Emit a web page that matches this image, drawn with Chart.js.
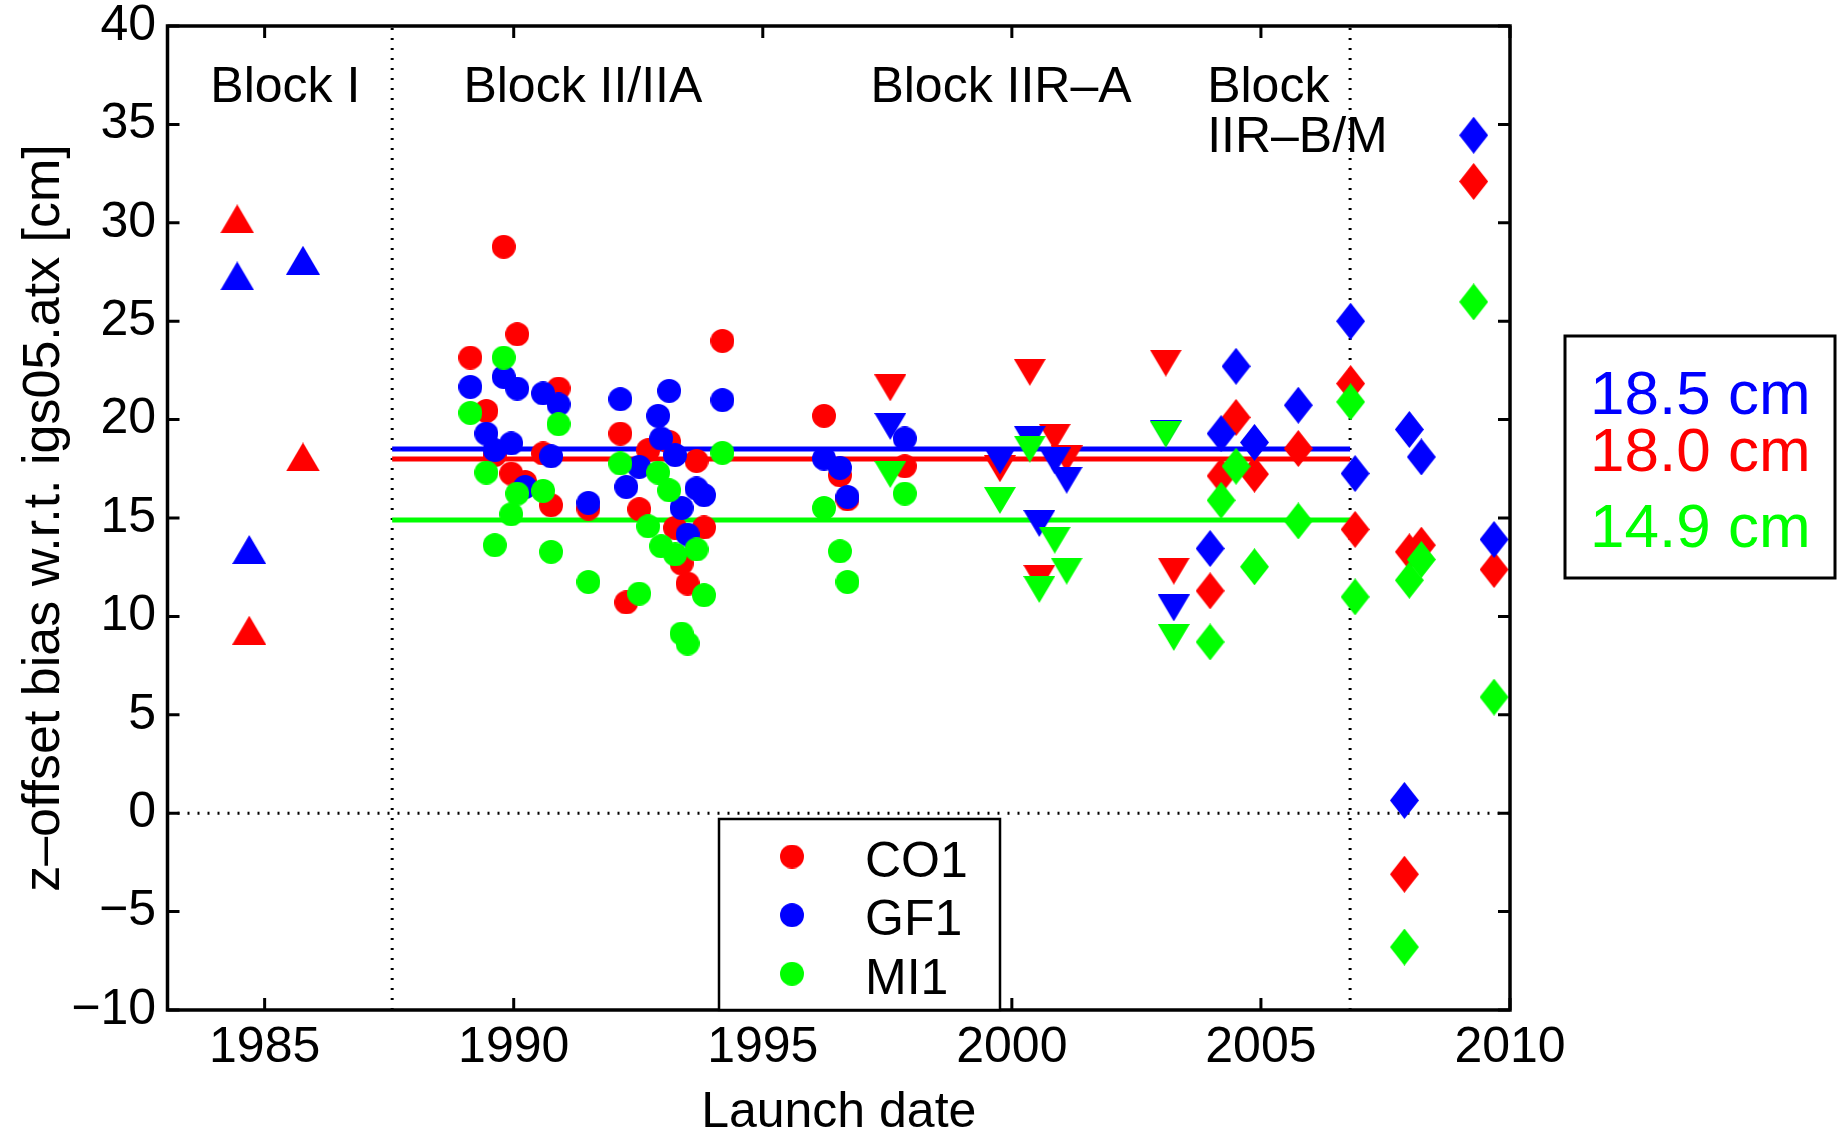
<!DOCTYPE html>
<html>
<head>
<meta charset="utf-8">
<title>z-offset bias w.r.t. igs05.atx</title>
<script src="https://cdn.jsdelivr.net/npm/chart.js@4"></script>
<style>
  html, body { margin: 0; padding: 0; background: #fff; }
  #wrap { width: 1837px; height: 1129px; }
</style>
</head>
<body>
<div id="wrap"><canvas id="chart" width="1837" height="1129"></canvas></div>
<script>
// one entry per satellite: launch date (decimal year), block, and bias per solution [cm]
var launchDates = [
  1984.45, 1984.69, 1985.77,
  1989.13, 1989.45, 1989.62, 1989.80, 1989.95, 1990.07, 1990.23, 1990.59, 1990.75, 1990.90,
  1991.50, 1992.14, 1992.26, 1992.52, 1992.70, 1992.90, 1992.96, 1993.12, 1993.24, 1993.37,
  1993.49, 1993.67, 1993.82, 1994.19, 1996.23, 1996.55, 1996.70, 1997.85,
  1997.56, 1999.76, 2000.36, 2000.55, 2000.86, 2001.10, 2003.09, 2003.25,
  2003.98, 2004.20, 2004.50, 2004.87, 2005.75, 2006.80, 2006.89, 2007.88, 2007.98, 2008.22,
  2009.27, 2009.68
];
var blocks = [
  'I', 'I', 'I',
  'II', 'II', 'II', 'II', 'II', 'II', 'II', 'II', 'II', 'II',
  'II', 'II', 'II', 'II', 'II', 'II', 'II', 'II', 'II', 'II',
  'II', 'II', 'II', 'II', 'II', 'II', 'II', 'II',
  'IIR-A', 'IIR-A', 'IIR-A', 'IIR-A', 'IIR-A', 'IIR-A', 'IIR-A', 'IIR-A',
  'IIR-B/M', 'IIR-B/M', 'IIR-B/M', 'IIR-B/M', 'IIR-B/M', 'IIR-B/M', 'IIR-B/M', 'IIR-B/M', 'IIR-B/M', 'IIR-B/M',
  'IIR-B/M', 'IIR-B/M'
];
var co1 = [
  30.2, 9.3, 18.1,
  23.15, 20.44, 18.2, 28.78, 17.26, 24.34, 16.83, 18.28, 15.65, 21.58,
  15.48, 19.29, 10.71, 15.45, 18.45, null, null, 18.87, 14.5, 12.69,
  11.67, 17.9, 14.52, 24.0, 20.19, 17.17, 15.95, 17.63,
  21.61, 17.5, 22.4, 11.93, 19.1, 18.0, 22.87, 12.3,
  11.3, 17.14, 20.11, 17.23, 18.53, 21.83, 14.42, -3.1, 13.28, 13.62,
  32.1, 12.38
];
var gf1 = [
  27.3, 13.4, 28.1,
  21.66, 19.29, 18.45, 22.17, 18.79, 21.58, 16.58, 21.33, 18.14, 20.77,
  15.77, 21.04, 16.58, 17.6, null, 20.19, 19.04, 21.46, 18.2, 15.51,
  14.16, 16.5, 16.16, 20.99, 18.02, 17.55, 16.07, 19.04,
  19.65, 17.9, 19.0, 14.72, 17.9, 16.92, 19.3, 10.43,
  13.45, 19.29, 22.71, 18.84, 20.73, 25.0, 17.26, 0.65, 19.5, 18.1,
  34.45, 13.91
];
var mi1 = [
  null, null, null,
  20.34, 17.31, 13.62, 23.15, 15.19, 16.24, null, 16.38, 13.28, 19.77,
  11.75, 17.77, null, 11.16, 14.58, 17.31, 13.57, 16.41, 13.15, 9.13,
  8.62, 13.4, 11.08, 18.31, 15.51, 13.31, 11.75, 16.24,
  17.21, 15.89, 18.5, 11.37, 13.87, 12.3, 19.26, 8.93,
  8.7, 15.9, 17.63, 12.52, 14.85, 20.9, 10.99, -6.8, 11.84, 12.89,
  25.98, 5.9
];

var seriesNames = ['CO1', 'GF1', 'MI1'];
var seriesColors = ['#ff0000', '#0000ff', '#00ff00'];
var meanBias = [18.0, 18.5, 14.9];          // CO1, GF1, MI1 over blocks II/IIA and IIR
var meanSpan = [1987.56, 2006.79];
var blockBounds = [1987.56, 2006.79];
var blockNames = ['Block I', 'Block II/IIA', 'Block IIR\u2013A', 'Block', 'IIR\u2013B/M'];
var xTicks = [1985, 1990, 1995, 2000, 2005, 2010];
var yTicks = [-10, -5, 0, 5, 10, 15, 20, 25, 30, 35, 40];
var xRange = [1983.05, 2010];
var yRange = [-10, 40];

var FONT = "'Liberation Sans', Arial, Helvetica, sans-serif";
var shapeOf = { 'I': 'up', 'II': 'circle', 'IIR-A': 'down', 'IIR-B/M': 'diamond' };

function markerCanvas(shape, color) {
  var sz = { circle: [24, 24], up: [34, 29], down: [32, 27], diamond: [29, 37] }[shape];
  var w = sz[0], h = sz[1];
  var c = document.createElement('canvas');
  c.width = w; c.height = h;
  var g = c.getContext('2d');
  g.fillStyle = color;
  g.beginPath();
  if (shape === 'circle') g.arc(w / 2, h / 2, w / 2, 0, Math.PI * 2);
  else if (shape === 'up') { g.moveTo(w / 2, 0); g.lineTo(w, h); g.lineTo(0, h); }
  else if (shape === 'down') { g.moveTo(0, 0); g.lineTo(w, 0); g.lineTo(w / 2, h); }
  else { g.moveTo(w / 2, 0); g.lineTo(w, h / 2); g.lineTo(w / 2, h); g.lineTo(0, h / 2); }
  g.closePath();
  g.fill();
  return c;
}

var markers = seriesColors.map(function(col) {
  var m = {};
  Object.keys(shapeOf).forEach(function(b) { m[b] = markerCanvas(shapeOf[b], col); });
  return m;
});

function seriesPoints(vals) {
  var pts = [];
  vals.forEach(function(v, i) {
    if (v != null) pts.push({ x: launchDates[i], y: v, b: blocks[i] });
  });
  return pts;
}

var datasets = [];
// dotted reference lines
blockBounds.forEach(function(b) {
  datasets.push({ data: [{ x: b, y: yRange[0] }, { x: b, y: yRange[1] }], showLine: true, pointRadius: 0,
    borderColor: '#000', borderWidth: 3, borderDash: [2, 8], order: 10 });
});
datasets.push({ data: [{ x: xRange[0], y: 0 }, { x: xRange[1], y: 0 }], showLine: true, pointRadius: 0,
  borderColor: '#000', borderWidth: 3, borderDash: [2, 8], order: 10 });
// mean lines
meanBias.forEach(function(m, k) {
  datasets.push({ data: [{ x: meanSpan[0], y: m }, { x: meanSpan[1], y: m }], showLine: true, pointRadius: 0,
    borderColor: seriesColors[k], borderWidth: 5, order: 5 + k });
});
// satellites
[co1, gf1, mi1].forEach(function(vals, k) {
  datasets.push({
    label: seriesNames[k],
    data: seriesPoints(vals),
    showLine: false,
    pointStyle: function(c) { return markers[k][c.raw.b]; },
    order: 2 - k
  });
});

var frame = {
  id: 'frame',
  afterDraw: function(chart) {
    var ctx = chart.ctx, a = chart.chartArea, xs = chart.scales.x, ys = chart.scales.y;
    var tl = 12;
    ctx.save();
    ctx.strokeStyle = '#000';
    ctx.lineWidth = 3;
    ctx.beginPath();
    xTicks.forEach(function(v) {
      var px = xs.getPixelForValue(v);
      ctx.moveTo(px, a.bottom); ctx.lineTo(px, a.bottom - tl);
      ctx.moveTo(px, a.top); ctx.lineTo(px, a.top + tl);
    });
    yTicks.forEach(function(v) {
      var py = ys.getPixelForValue(v);
      ctx.moveTo(a.left, py); ctx.lineTo(a.left + tl, py);
      ctx.moveTo(a.right, py); ctx.lineTo(a.right - tl, py);
    });
    ctx.stroke();
    ctx.lineWidth = 3.5;
    ctx.strokeRect(a.left, a.top, a.right - a.left, a.bottom - a.top);

    // block labels
    ctx.fillStyle = '#000';
    ctx.font = '50px ' + FONT;
    ctx.textAlign = 'left';
    ctx.textBaseline = 'alphabetic';
    var labelX = [1983.91, 1988.99, 1997.16, 2003.92, 2003.92];
    var labelY = [36.14, 36.14, 36.14, 36.14, 33.6];
    blockNames.forEach(function(t, i) {
      ctx.fillText(t, xs.getPixelForValue(labelX[i]), ys.getPixelForValue(labelY[i]));
    });

    // legend inside the axes
    var lx = 719, ly = 819, lw = 281, lh = a.bottom - 819;
    ctx.fillStyle = '#fff';
    ctx.fillRect(lx, ly, lw, lh);
    ctx.lineWidth = 2.5;
    ctx.strokeRect(lx, ly, lw, lh);
    seriesNames.forEach(function(n, k) {
      var img = markers[k]['II'];
      var cy = 856.5 + k * 58.6;
      ctx.drawImage(img, 792 - img.width / 2, cy - img.height / 2);
      ctx.fillStyle = '#000';
      ctx.fillText(n, 865, 877 + k * 58.4);
    });

    // mean values box
    ctx.lineWidth = 3;
    ctx.strokeRect(1565, 336, 270, 242);
    ctx.font = '62px ' + FONT;
    var order = [1, 0, 2];
    var base = [414, 471, 547];
    order.forEach(function(k, i) {
      ctx.fillStyle = seriesColors[k];
      ctx.fillText(meanBias[k].toFixed(1) + ' cm', 1590, base[i]);
    });
    ctx.restore();
  }
};

new Chart(document.getElementById('chart'), {
  type: 'scatter',
  data: { datasets: datasets },
  options: {
    responsive: false,
    animation: false,
    events: [],
    layout: { padding: { left: 0, top: 26, right: 327, bottom: 0 } },
    plugins: { legend: { display: false }, tooltip: { enabled: false } },
    scales: {
      x: {
        type: 'linear', min: xRange[0], max: xRange[1],
        grid: { display: false, drawTicks: false },
        border: { display: false },
        afterBuildTicks: function(s) { s.ticks = xTicks.map(function(v) { return { value: v }; }); },
        afterFit: function(s) { s.height = 119; s.paddingLeft = 0; s.paddingRight = 0; },
        ticks: { color: '#000', padding: 8, maxRotation: 0, font: { family: FONT, size: 50 },
          callback: function(v) { return String(v); } },
        title: { display: true, text: 'Launch date', color: '#000', padding: 0,
          font: { family: FONT, size: 50, lineHeight: 0.64 } }
      },
      y: {
        type: 'linear', min: yRange[0], max: yRange[1],
        grid: { display: false, drawTicks: false },
        border: { display: false },
        afterBuildTicks: function(s) { s.ticks = yTicks.map(function(v) { return { value: v }; }); },
        afterFit: function(s) { s.width = 167.5; s.paddingTop = 0; s.paddingBottom = 0; },
        ticks: { color: '#000', padding: 11.5, font: { family: FONT, size: 50 },
          callback: function(v) { return v < 0 ? '\u2212' + (-v) : String(v); } },
        title: { display: true, text: 'z\u2013offset bias w.r.t. igs05.atx [cm]', color: '#000',
          padding: { top: 13, bottom: 0 }, font: { family: FONT, size: 52 } }
      }
    }
  },
  plugins: [frame]
});
</script>
</body>
</html>
